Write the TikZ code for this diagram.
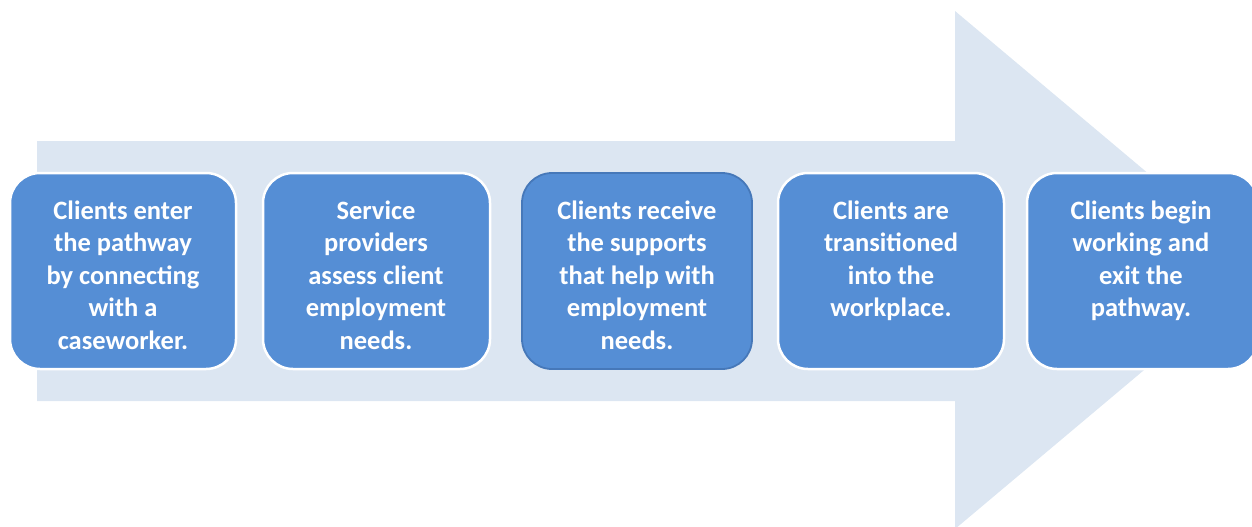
\documentclass[tikz,border=0pt]{standalone}
\usepackage{fontspec}
\setmainfont{Carlito}
\definecolor{arrowfill}{RGB}{220,230,242}
\definecolor{stepfill}{RGB}{85,142,213}
\definecolor{stepedge}{RGB}{70,120,185}
\begin{document}
\begin{tikzpicture}[x=1pt,y=-1pt,
  stepbox/.style={draw=white,line width=2.5pt,fill=stepfill,rounded corners=30pt},
  steptext/.style={anchor=base,align=center,text=white,inner sep=0pt,
    font=\fontsize{26.5pt}{32.5pt}\selectfont\bfseries}]
\useasboundingbox (0,0) rectangle (1252,527);
\begin{scope}
\clip (0,0) rectangle (1252,527);
% background block arrow
\fill[arrowfill] (37,141) -- (955,141) -- (955,11) -- (1263,270) -- (955,529)
  -- (955,401) -- (37,401) -- cycle;
% step boxes
\draw[stepbox] (10,173) rectangle (236,369);
\draw[stepbox] (263,173) rectangle (490,369);
\draw[stepbox,draw=stepedge,line width=1.8pt] (522,173) rectangle (752,369);
\draw[stepbox] (778,173) rectangle (1004,369);
\draw[stepbox] (1027,173) rectangle (1258,369);
\end{scope}
% step labels (anchored at the baseline of their last line)
\node[steptext] (s1) at (123,349) {Clients enter\\the pathway\\by connecting\\with a\\caseworker.};
\node[steptext] (s2) at (376,349) {Service\\providers\\assess client\\employment\\needs.};
\node[steptext] (s3) at (637,349) {Clients receive\\the supports\\that help with\\employment\\needs.};
\node[steptext] (s4) at (891,316.5) {Clients are\\transitioned\\into the\\workplace.};
\node[steptext] (s5) at (1141,316.5) {Clients begin\\working and\\exit the\\pathway.};
\end{tikzpicture}
\end{document}
